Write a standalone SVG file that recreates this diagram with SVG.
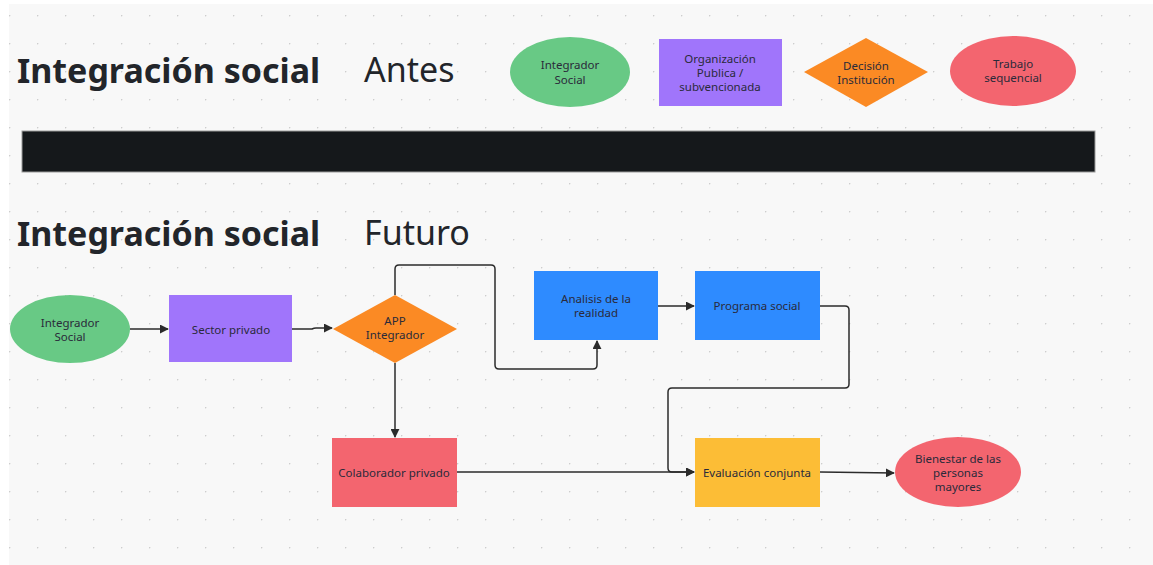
<svg xmlns="http://www.w3.org/2000/svg" width="1153" height="565" viewBox="0 0 1153 565">
<defs>
<pattern id="dots" x="9" y="15" width="28" height="28" patternUnits="userSpaceOnUse">
<circle cx="0.5" cy="0.5" r="0.9" fill="#cdcdcd"/>
</pattern>
<marker id="arr" viewBox="0 0 10 10" refX="9" refY="5" markerWidth="9" markerHeight="9" markerUnits="userSpaceOnUse" orient="auto">
<path d="M0,0 L10,5 L0,10 z" fill="#2b2b2b"/>
</marker>
</defs>
<style>
.title{font-family:"Noto Sans","Liberation Sans",sans-serif;font-size:34px;fill:#22252a}
.b{font-weight:bold}
.lbl{font-family:"Noto Sans","Liberation Sans",sans-serif;font-size:11.5px;fill:#2a2a3a;text-anchor:middle}
.con{fill:none;stroke:#2b2b2b;stroke-width:1.5;stroke-linejoin:round}
.green{fill:#68c985}
.purple{fill:#a075fb}
.orange{fill:#fb8a24}
.red{fill:#f3656f}
.blue{fill:#2e8bff}
.yellow{fill:#fcbd36}
</style>
<rect width="1153" height="565" fill="#ffffff"/>
<rect x="9" y="4" width="1144" height="561" fill="#f8f8f8"/>
<rect x="9" y="4" width="1144" height="561" fill="url(#dots)"/>

<g id="headers">
<text class="title b" x="17" y="83">Integración social</text>
<text class="title" x="364" y="82">Antes</text>
<text class="title b" x="17" y="246">Integración social</text>
<text class="title" x="364" y="245">Futuro</text>
</g>

<g id="divider">
<rect x="22" y="131" width="1073" height="41" fill="#15181b" stroke="#9a9a9a" stroke-width="1"/>
</g>

<g id="legend-integrador">
<ellipse class="green" cx="570" cy="72" rx="60" ry="35"/>
<text class="lbl" x="570" y="69">Integrador</text>
<text class="lbl" x="570" y="84">Social</text>
</g>
<g id="legend-organizacion">
<rect class="purple" x="659" y="39" width="123" height="67"/>
<text class="lbl" x="720" y="63">Organización</text>
<text class="lbl" x="720" y="77">Publica /</text>
<text class="lbl" x="720" y="91">subvencionada</text>
</g>
<g id="legend-decision">
<polygon class="orange" points="866,38 928,72 866,107 804,72"/>
<text class="lbl" x="866" y="70">Decisión</text>
<text class="lbl" x="866" y="84">Institución</text>
</g>
<g id="legend-trabajo">
<ellipse class="red" cx="1013" cy="71" rx="63" ry="35"/>
<text class="lbl" x="1013" y="68">Trabajo</text>
<text class="lbl" x="1013" y="82">sequencial</text>
</g>

<g id="connectors">
<path class="con" d="M130,329 H168" marker-end="url(#arr)"/>
<path class="con" d="M292,329 H312 Q314,328 316,328 H332" marker-end="url(#arr)"/>
<path class="con" d="M395,295 V269 Q395,265 399,265 H491 Q495,265 495,269 V365 Q495,369 499,369 H593 Q597,369 597,365 V341" marker-end="url(#arr)"/>
<path class="con" d="M658,306 H694" marker-end="url(#arr)"/>
<path class="con" d="M820,306 H845 Q849,306 849,310 V384 Q849,388 845,388 H672 Q668,388 668,392 V468 Q668,472 672,472 H694" marker-end="url(#arr)"/>
<path class="con" d="M395,363 V437" marker-end="url(#arr)"/>
<path class="con" d="M457,472 H694" marker-end="url(#arr)"/>
<path class="con" d="M820,472 L894,473" marker-end="url(#arr)"/>
</g>

<g id="integrador-social">
<ellipse class="green" cx="70" cy="329" rx="60" ry="34"/>
<text class="lbl" x="70" y="327">Integrador</text>
<text class="lbl" x="70" y="341">Social</text>
</g>
<g id="sector-privado">
<rect class="purple" x="169" y="295" width="123" height="67"/>
<text class="lbl" x="231" y="334">Sector privado</text>
</g>
<g id="app-integrador">
<polygon class="orange" points="395,295 457,329 395,363 333,329"/>
<text class="lbl" x="395" y="325">APP</text>
<text class="lbl" x="395" y="339">Integrador</text>
</g>
<g id="analisis">
<rect class="blue" x="534" y="271" width="124" height="69"/>
<text class="lbl" x="596" y="303">Analisis de la</text>
<text class="lbl" x="596" y="317">realidad</text>
</g>
<g id="programa-social">
<rect class="blue" x="695" y="271" width="125" height="69"/>
<text class="lbl" x="757" y="310">Programa social</text>
</g>
<g id="colaborador-privado">
<rect class="red" x="332" y="438" width="125" height="69"/>
<text class="lbl" x="394" y="477">Colaborador privado</text>
</g>
<g id="evaluacion-conjunta">
<rect class="yellow" x="695" y="438" width="125" height="69"/>
<text class="lbl" x="757" y="477">Evaluación conjunta</text>
</g>
<g id="bienestar">
<ellipse class="red" cx="958" cy="472" rx="63" ry="35"/>
<text class="lbl" x="958" y="463">Bienestar de las</text>
<text class="lbl" x="958" y="477">personas</text>
<text class="lbl" x="958" y="491">mayores</text>
</g>
</svg>
